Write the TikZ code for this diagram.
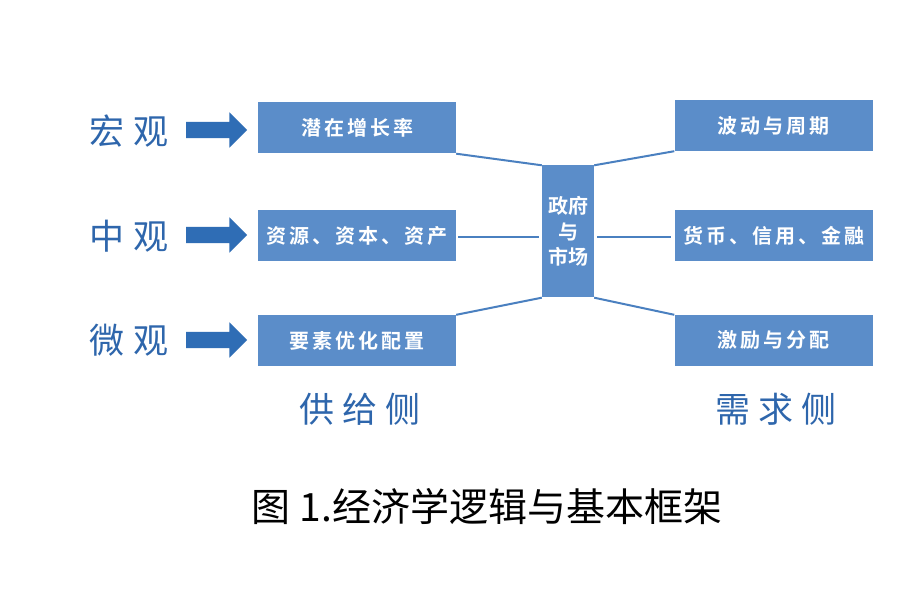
\documentclass[tikz,border=0pt]{standalone}
\usepackage{fontspec}
\setmainfont{Noto Sans CJK SC}
\newfontfamily\cjkb{Noto Sans CJK SC Bold}
\newfontfamily\cjkbsp[LetterSpace=15]{Noto Sans CJK SC Bold}
\newfontfamily\cjksp[LetterSpace=24]{Noto Sans CJK SC}
\usetikzlibrary{shapes.arrows}
\definecolor{boxblue}{HTML}{5B8DC9}
\definecolor{arrblue}{HTML}{2F6DB5}
\definecolor{lblblue}{HTML}{2E66AC}
\definecolor{lineblue}{HTML}{4A80C0}
\tikzset{
  bx/.style={fill=boxblue, draw=none, text=white, minimum width=198pt, minimum height=51pt, inner sep=0pt, font=\cjkbsp\fontsize{20}{22}\selectfont},
  cbx/.style={fill=boxblue, draw=none, text=white, minimum width=52pt, minimum height=132pt, inner sep=0pt, align=center, font=\cjkb\fontsize{20}{25.5}\selectfont},
  lbl/.style={text=lblblue, font=\cjksp\fontsize{35}{38}\selectfont, inner sep=0pt},
  bigarr/.style={single arrow, fill=arrblue, draw=none, minimum height=61pt, minimum width=35pt, single arrow head extend=9.5pt, inner sep=0pt, text height=16pt, text depth=0pt, text width=0pt},
  conn/.style={draw=lineblue, line width=2pt}
}
\begin{document}
\begin{tikzpicture}[x=1pt,y=-1pt]
\useasboundingbox[fill=white] (0,0) rectangle (922,596);
% left labels
\node[lbl] (ma) at (129,131) {宏观};
\node[lbl] (me) at (129,236) {中观};
\node[lbl] (mi) at (129,340) {微观};
% arrows
\node[bigarr] (a1) at (212.5,130) {};
\node[bigarr] (a2) at (212.5,235) {};
\node[bigarr] (a3) at (212.5,340) {};
% left boxes
\node[bx] (l1) at (357,128) {潜在增长率};
\node[bx] (l2) at (357,235.5) {资源、资本、资产};
\node[bx] (l3) at (357,340.5) {要素优化配置};
% center
\node[cbx] (g) at (568,231.5) {政府\\与\\市场};
% right boxes
\node[bx] (r1) at (773.5,125.5) {波动与周期};
\node[bx] (r2) at (773.5,235.5) {货币、信用、金融};
\node[bx] (r3) at (773.5,340.5) {激励与分配};
% connectors
\draw[conn] (l1.south east) -- (g.north west);
\draw[conn, shorten <=2pt, shorten >=3pt] ([yshift=-1.5pt]l2.east) -- ([yshift=-1.5pt]l2.east -| g.west);
\draw[conn] (l3.north east) -- (g.south west);
\draw[conn] (g.north east) -- (r1.south west);
\draw[conn, shorten <=3pt, shorten >=3pt] ([yshift=-1.5pt]r2.west -| g.east) -- ([yshift=-1.5pt]r2.west);
\draw[conn] (g.south east) -- (r3.north west);
% bottom labels
\node[lbl] (sup) at (360,409) {供给侧};
\node[lbl] (dem) at (776,409) {需求侧};
% caption
\node[font=\fontsize{39}{42}\selectfont, inner sep=0pt] (cap) at (487,507) {图 1.经济学逻辑与基本框架};
\end{tikzpicture}
\end{document}
